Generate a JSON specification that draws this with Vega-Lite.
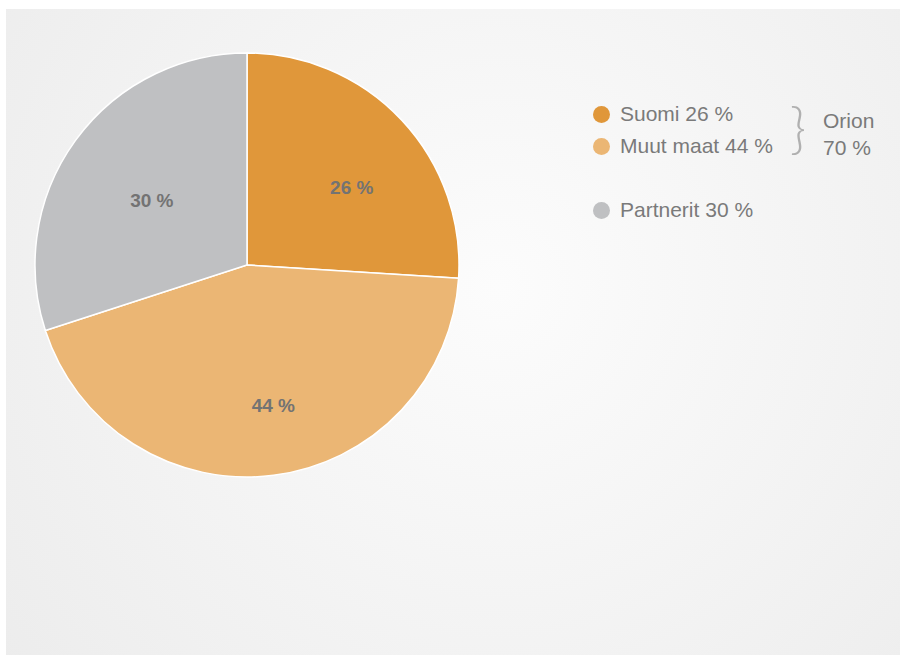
{
  "$schema": "https://vega.github.io/schema/vega-lite/v6.json",
  "width": 894,
  "height": 646,
  "autosize": {"type": "none"},
  "padding": {"left": 6, "top": 9, "right": 3, "bottom": 3},
  "background": "white",
  "view": {
    "stroke": null,
    "fill": {
      "gradient": "radial",
      "x1": 0.55, "y1": 0.45, "r1": 0,
      "x2": 0.55, "y2": 0.45, "r2": 0.75,
      "stops": [
        {"offset": 0, "color": "#fcfcfc"},
        {"offset": 1, "color": "#ebebeb"}
      ]
    }
  },
  "data": {
    "values": [
      {"segment": "Suomi 26 %", "share": 26, "order": 1, "label": "26 %"},
      {"segment": "Muut maat 44 %", "share": 44, "order": 2, "label": "44 %"},
      {"segment": "Partnerit 30 %", "share": 30, "order": 3, "label": "30 %"}
    ]
  },
  "layer": [
    {
      "mark": {"type": "arc", "outerRadius": 212, "stroke": "white", "strokeWidth": 1.5},
      "encoding": {
        "x": {"value": 241},
        "y": {"value": 256},
        "theta": {"field": "share", "type": "quantitative", "stack": true},
        "order": {"field": "order", "type": "quantitative"},
        "color": {
          "field": "segment",
          "type": "nominal",
          "scale": {
            "domain": ["Suomi 26 %", "Muut maat 44 %", " ", "Partnerit 30 %"],
            "range": ["#e0973a", "#ebb674", "transparent", "#bfc0c2"]
          },
          "legend": {
            "orient": "none",
            "legendX": 585,
            "legendY": 95,
            "title": null,
            "symbolType": "circle",
            "symbolSize": 289,
            "symbolStrokeWidth": 0,
            "symbolOpacity": 1,
            "labelFontSize": 21,
            "labelFont": "Liberation Sans",
            "labelColor": "#7a7a7a",
            "labelOffset": 8,
            "rowPadding": 10,
            "padding": 0
          }
        }
      }
    },
    {
      "mark": {"type": "text", "radius": 130, "dx": 10, "dy": 12, "fontSize": 19, "fontWeight": "bold", "fill": "#737373", "font": "Liberation Sans", "baseline": "middle", "align": "center"},
      "encoding": {
        "x": {"value": 241},
        "y": {"value": 256},
        "theta": {"field": "share", "type": "quantitative", "stack": true},
        "order": {"field": "order", "type": "quantitative"},
        "text": {"field": "label"}
      }
    },
    {
      "data": {"values": [{"t": "}"}]},
      "mark": {"type": "text", "font": "Lato", "fontWeight": 300, "fontSize": 56, "fill": "#b0b0b0", "align": "center", "baseline": "middle"},
      "encoding": {
        "x": {"value": 792},
        "y": {"value": 122},
        "text": {"field": "t"}
      }
    },
    {
      "data": {"values": [{"t": ["Orion", "70 %"]}]},
      "mark": {"type": "text", "font": "Liberation Sans", "fontSize": 21, "fill": "#7a7a7a", "align": "left", "baseline": "alphabetic", "lineHeight": 27},
      "encoding": {
        "x": {"value": 817},
        "y": {"value": 118.5},
        "text": {"field": "t"}
      }
    }
  ]
}
